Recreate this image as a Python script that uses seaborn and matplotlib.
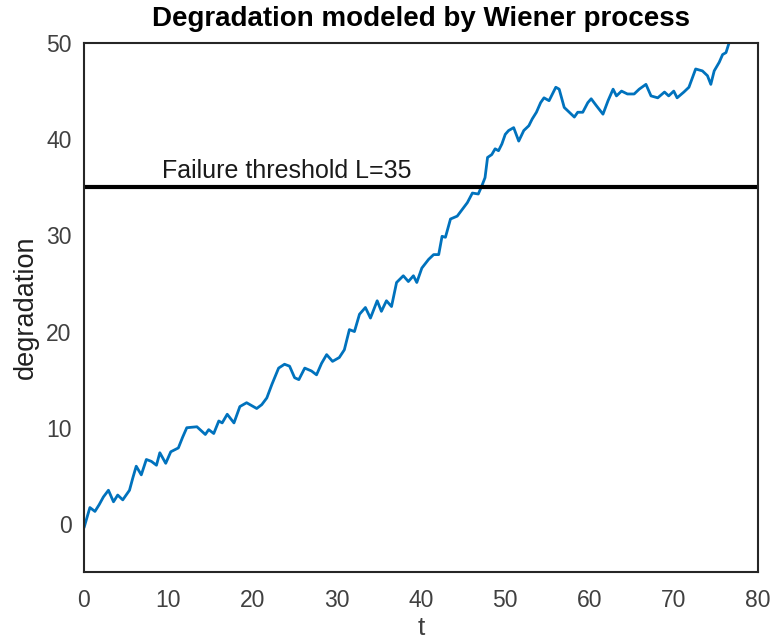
import numpy as np
import pandas as pd
import matplotlib
matplotlib.use("Agg")
import matplotlib.pyplot as plt
import seaborn as sns

# values
t_vals = [0.0, 0.4, 0.7, 1.3, 1.8, 2.3, 2.9, 3.5, 4.0, 4.6, 5.4, 5.8, 6.2, 6.8, 7.4,
          8.0, 8.6, 9.0, 9.7, 10.3, 11.2, 11.7, 12.2, 13.4, 14.4, 14.8, 15.4, 16.0,
          16.4, 17.0, 17.8, 18.5, 19.3, 20.5, 21.1, 21.7, 22.3, 23.1, 23.8, 24.4,
          25.0, 25.5, 26.2, 27.0, 27.6, 28.2, 28.8, 29.5, 30.3, 30.9, 31.5, 32.1,
          32.7, 33.4, 34.0, 34.8, 35.3, 35.9, 36.5, 37.1, 37.9, 38.5, 39.1, 39.5,
          40.1, 40.9, 41.5, 42.1, 42.5, 42.9, 43.5, 44.3, 44.9, 45.5, 46.1, 46.8,
          47.2, 47.6, 47.9, 48.4, 48.8, 49.2, 49.6, 50.0, 50.4, 51.0, 51.6, 52.2,
          52.8, 53.2, 53.7, 54.2, 54.6, 55.2, 56.0, 56.4, 57.0, 57.6, 58.2, 58.6,
          59.2, 59.8, 60.2, 60.8, 61.6, 62.2, 62.8, 63.2, 63.8, 64.5, 65.3, 65.9,
          66.7, 67.3, 68.1, 68.9, 69.4, 70.0, 70.4, 71.2, 71.8, 72.6, 73.4, 74.0,
          74.4, 74.8, 75.4, 75.8, 76.2, 76.6, 77.3]
degradation = [-0.4, 0.8, 1.7, 1.3, 2.0, 2.8, 3.5, 2.3, 3.0, 2.5, 3.5, 4.8, 6.0, 5.1, 6.7,
               6.5, 6.1, 7.4, 6.3, 7.5, 7.9, 9.0, 10.0, 10.1, 9.3, 9.8, 9.4, 10.7,
               10.5, 11.4, 10.5, 12.2, 12.6, 12.0, 12.4, 13.1, 14.5, 16.2, 16.6, 16.4,
               15.2, 15.0, 16.2, 15.9, 15.5, 16.7, 17.6, 16.9, 17.3, 18.1, 20.2, 20.0,
               21.8, 22.5, 21.4, 23.2, 22.1, 23.2, 22.6, 25.1, 25.8, 25.2, 25.8, 25.1,
               26.6, 27.5, 28.0, 28.0, 29.9, 29.8, 31.7, 32.0, 32.7, 33.4, 34.4, 34.3,
               35.1, 36.0, 38.1, 38.4, 39.0, 38.8, 39.5, 40.5, 40.9, 41.2, 39.8, 40.9,
               41.4, 42.1, 42.8, 43.8, 44.3, 44.0, 45.4, 45.2, 43.3, 42.8, 42.3, 42.8,
               42.8, 43.8, 44.2, 43.5, 42.6, 44.0, 45.2, 44.5, 45.0, 44.7, 44.7, 45.2,
               45.7, 44.5, 44.3, 44.9, 44.5, 45.0, 44.3, 44.9, 45.4, 47.3, 47.1, 46.6,
               45.7, 47.1, 48.0, 48.8, 49.0, 50.1, 50.1]
threshold = 35
x_ticks = [0, 10, 20, 30, 40, 50, 60, 70, 80]
y_ticks = [0, 10, 20, 30, 40, 50]

df = pd.DataFrame({"t": t_vals, "degradation": degradation})

sns.set_style("white")
plt.rcParams["font.family"] = ["Liberation Sans", "DejaVu Sans"]

fig = plt.figure(figsize=(7.74, 6.42), dpi=100)
ax = fig.add_axes([84 / 774, 1 - 572 / 642, (758 - 84) / 774, (572 - 43) / 642])

sns.lineplot(data=df, x="t", y="degradation", ax=ax, color="#0072BD",
             linewidth=2.0, estimator=None)
ax.axhline(threshold, color="black", linewidth=3)
ax.text(9.3, 36.0, "Failure threshold L=35", fontsize=18, color="#1a1a1a",
        va="baseline", ha="left")

ax.set_xlim(0, 80)
ax.set_ylim(-5, 50)
ax.set_xticks(x_ticks)
ax.set_yticks(y_ticks)
ax.tick_params(direction="in", length=5, width=1.2, colors="#262626",
               labelsize=16.5, labelcolor="#404040", top=False, right=False)
ax.tick_params(axis="x", pad=12)
ax.tick_params(axis="y", pad=9)
for s in ax.spines.values():
    s.set_visible(True)
    s.set_color("#262626")
    s.set_linewidth(1.5)

ax.set_xlabel("t", fontsize=19, color="#404040", labelpad=3)
ax.set_ylabel("degradation", fontsize=19.5, color="#202020", labelpad=5)
ax.set_title("Degradation modeled by Wiener process", fontsize=20,
             fontweight="bold", color="black", pad=12)

fig.savefig("out.png", dpi=100)
